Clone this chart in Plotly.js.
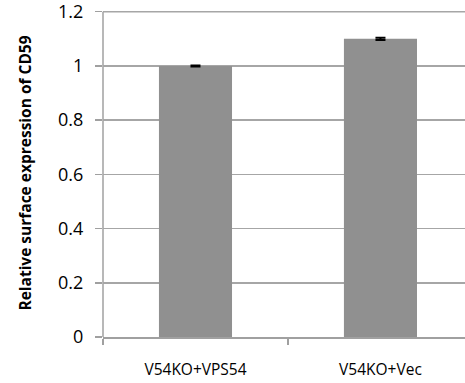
<!DOCTYPE html>
<html>
<head>
<meta charset="utf-8">
<script src="https://cdn.plot.ly/plotly-3.0.1.min.js"></script>
<style>html,body{margin:0;padding:0;background:#fff;}#chart{width:465px;height:383px;}</style>
</head>
<body>
<div id="chart"></div>
<script>
const categories = ["V54KO+VPS54", "V54KO+Vec"];
const values = [1.0, 1.10];
const errors = [0.002, 0.004];
const yTicks = [0, 0.2, 0.4, 0.6, 0.8, 1, 1.2];
const yTickLabels = ["0", "0.2", "0.4", "0.6", "0.8", "1", "1.2"];
const yMax = yTicks[yTicks.length - 1];

const trace = {
  type: "bar",
  x: categories,
  y: values,
  width: 0.395,
  marker: {color: "#909090", line: {width: 0}},
  error_y: {type: "data", array: errors, visible: true, color: "#000", thickness: 2, width: 5}
};

const layout = {
  width: 465, height: 383,
  margin: {l: 103, r: 0, t: 9, b: 46},
  paper_bgcolor: "#fff", plot_bgcolor: "#fff",
  showlegend: false,
  font: {family: "Open Sans, Liberation Sans, sans-serif", color: "#000"},
  xaxis: {
    type: "category",
    range: [-0.5, 1.457],
    showgrid: false,
    showline: true, linecolor: "#a0a0a0", linewidth: 1.5,
    ticks: "outside", tickson: "boundaries", ticklen: 6, tickcolor: "#a0a0a0", tickwidth: 1.5,
    tickfont: {size: 15.5, family: "Open Sans, sans-serif", color: "#000"},
    ticklabelstandoff: 18,
    zeroline: false
  },
  yaxis: {
    range: [0, 1.21],
    tickvals: yTicks, ticktext: yTickLabels,
    ticklabeloverflow: "allow",
    showgrid: true, gridcolor: "#a6a6a6", gridwidth: 1.5,
    showline: false,
    ticks: "outside", ticklen: 7, tickcolor: "#a0a0a0", tickwidth: 1.5,
    tickfont: {size: 18, family: "Open Sans, sans-serif", color: "#000"},
    ticklabelstandoff: 8,
    zeroline: false,
    title: {text: "Relative surface expression of CD59", font: {size: 15.5, family: "Open Sans, sans-serif", color: "#000", weight: "bold"}, standoff: 22}
  },
  shapes: [
    {type: "line", xref: "paper", yref: "y", x0: 0, x1: 0, y0: 0, y1: yMax, line: {color: "#a0a0a0", width: 1.5}, layer: "below"},
    {type: "line", xref: "paper", yref: "y", x0: 0, x1: 1, y0: yMax, y1: yMax, line: {color: "#a6a6a6", width: 1.5}, layer: "below"}
  ]
};

Plotly.newPlot("chart", [trace], layout, {displayModeBar: false, staticPlot: true});
</script>
</body>
</html>
